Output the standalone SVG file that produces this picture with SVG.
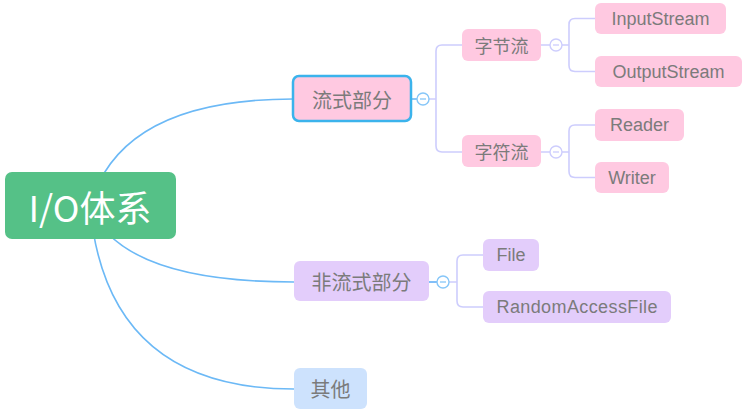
<svg xmlns="http://www.w3.org/2000/svg" width="746" height="418" viewBox="0 0 746 418">
<style>
.main{fill:none;stroke:#6cb9f6;stroke-width:1.6}
.sub{fill:none;stroke:#cdcdfd;stroke-width:1.6}
.t{font-family:"Noto Sans CJK SC","Liberation Sans",sans-serif;fill:#7b7b7b;text-anchor:middle;dominant-baseline:central}
.lat{font-family:"Liberation Sans","Noto Sans CJK SC",sans-serif;font-size:18px}
.pink{fill:#ffc9e1}
.lav{fill:#e3cdfb}
.tog{fill:#fff;stroke-width:1.4}
</style>
<rect width="746" height="418" fill="#fff"/>
<g id="connectors">
<path class="main" d="M90,206 Q120,99 293,99"/>
<path class="main" d="M90,206 Q120,282 294,282"/>
<path class="main" d="M90,206 Q106,389 294,389"/>
<path class="sub" d="M429,99 H436 M462,45 H442 Q436,45 436,51 V146 Q436,152 442,152 H462"/>
<path class="sub" d="M541,45 H569 M595,18.5 H575 Q569,18.5 569,24.5 V65.5 Q569,71.5 575,71.5 H595"/>
<path class="sub" d="M541,152 H569 M595,125 H575 Q569,125 569,131 V171.5 Q569,177.5 575,177.5 H595"/>
<path class="sub" d="M429,282 H457 M483,255 H463 Q457,255 457,261 V301 Q457,307 463,307 H483"/>
<path class="main" d="M411,99 H417"/>
<path class="main" d="M429,282 H437"/>
</g>
<g id="root">
<rect x="5" y="172" width="171" height="67" rx="7" fill="#55c187"/>
<text x="90" y="206" class="t" style="fill:#fff;font-size:36px">I/O体系</text>
</g>
<g id="stream">
<rect x="293" y="76" width="118" height="45" rx="6" class="pink" stroke="#3bb3ec" stroke-width="2.5"/>
<text x="352" y="99" class="t" font-size="20">流式部分</text>
<circle cx="423" cy="99" r="6" class="tog" stroke="#86c6f8"/>
<path d="M420,99 H426" stroke="#86c6f8" stroke-width="1.3"/>
</g>
<g id="byte">
<rect x="462" y="29" width="79" height="32" rx="6" class="pink"/>
<text x="501.5" y="45" class="t" font-size="18">字节流</text>
<circle cx="556" cy="45" r="6" class="tog" stroke="#cdcdfd"/>
<path d="M553,45 H559" stroke="#cdcdfd" stroke-width="1.3"/>
</g>
<g id="char">
<rect x="462" y="135" width="79" height="32" rx="6" class="pink"/>
<text x="501.5" y="151" class="t" font-size="18">字符流</text>
<circle cx="556" cy="152" r="6" class="tog" stroke="#cdcdfd"/>
<path d="M553,152 H559" stroke="#cdcdfd" stroke-width="1.3"/>
</g>
<g id="inputstream">
<rect x="595" y="3" width="131" height="31" rx="6" class="pink"/>
<text x="660.5" y="18.5" class="t lat">InputStream</text>
</g>
<g id="outputstream">
<rect x="595" y="56" width="147" height="31" rx="6" class="pink"/>
<text x="668.5" y="71.5" class="t lat">OutputStream</text>
</g>
<g id="reader">
<rect x="595" y="109" width="89" height="32" rx="6" class="pink"/>
<text x="639.5" y="125" class="t lat">Reader</text>
</g>
<g id="writer">
<rect x="595" y="162" width="74" height="31" rx="6" class="pink"/>
<text x="632" y="177.5" class="t lat">Writer</text>
</g>
<g id="nonstream">
<rect x="294" y="261" width="135" height="40" rx="6" class="lav"/>
<text x="361.5" y="281" class="t" font-size="20">非流式部分</text>
<circle cx="443" cy="282" r="6" class="tog" stroke="#86c6f8"/>
<path d="M440,282 H446" stroke="#86c6f8" stroke-width="1.3"/>
</g>
<g id="file">
<rect x="483" y="239" width="56" height="32" rx="6" class="lav"/>
<text x="511" y="255" class="t lat">File</text>
</g>
<g id="raf">
<rect x="483" y="291" width="188" height="32" rx="6" class="lav"/>
<text x="577" y="307" class="t lat" textLength="161">RandomAccessFile</text>
</g>
<g id="other">
<rect x="294" y="368" width="73" height="41" rx="6" fill="#cde2fd"/>
<text x="330.5" y="388.5" class="t" font-size="20">其他</text>
</g>
</svg>
